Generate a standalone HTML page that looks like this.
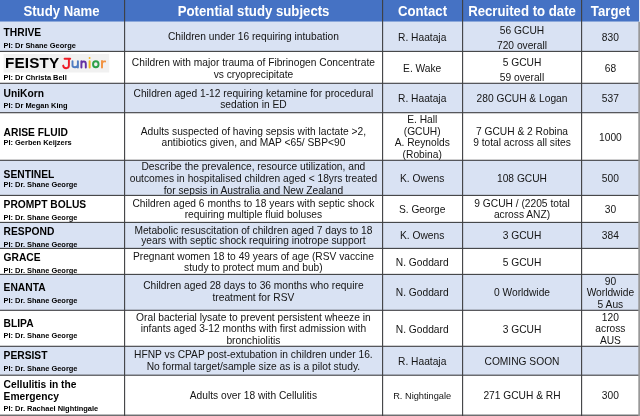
<!DOCTYPE html>
<html><head><meta charset="utf-8"><title>Studies</title>
<style>
html,body{margin:0;padding:0;background:#fff;}
body{width:640px;height:416px;overflow:hidden;}
svg{display:block;will-change:transform;opacity:0.999;font-family:"Liberation Sans",sans-serif;}
.b{font-size:10.23px;fill:#141414;text-anchor:middle;}
.t{font-size:10.25px;font-weight:bold;fill:#000;}
.p{font-size:7.45px;font-weight:bold;fill:#000;}
.h{font-size:13.2px;font-weight:bold;fill:#fff;text-anchor:middle;}
</style></head><body>
<svg width="640" height="416" viewBox="0 0 640 416">
<defs><filter id="soft" x="0" y="0" width="640" height="416" filterUnits="userSpaceOnUse"><feGaussianBlur stdDeviation="0.33" edgeMode="duplicate"/></filter></defs>
<g filter="url(#soft)">
<rect x="0" y="0" width="640" height="416" fill="#fff"/>
<rect x="0" y="0" width="640" height="21.75" fill="#4472C4"/>
<rect x="0" y="21.75" width="640" height="29.65" fill="#D9E2F3"/>
<rect x="0" y="83.3" width="640" height="29.4" fill="#D9E2F3"/>
<rect x="0" y="160.3" width="640" height="35.1" fill="#D9E2F3"/>
<rect x="0" y="222.4" width="640" height="26.0" fill="#D9E2F3"/>
<rect x="0" y="274.4" width="640" height="35.9" fill="#D9E2F3"/>
<rect x="0" y="346.3" width="640" height="28.9" fill="#D9E2F3"/>
<text class="h" transform="translate(61.5 16) scale(1 1.07)">Study Name</text>
<text class="h" transform="translate(253.6 16) scale(1 1.07)">Potential study subjects</text>
<text class="h" transform="translate(422.5 16) scale(1 1.07)">Contact</text>
<text class="h" transform="translate(522.0 16) scale(1 1.07)">Recruited to date</text>
<text class="h" transform="translate(610.5 16) scale(1 1.07)">Target</text>
<text class="b" x="253.4" y="40.3">Children under 16 requiring intubation</text>
<text class="b" x="253.4" y="66.2">Children with major trauma of Fibrinogen Concentrate</text>
<text class="b" x="253.4" y="77.8">vs cryoprecipitate</text>
<text class="b" x="253.4" y="96.8">Children aged 1-12 requiring ketamine for procedural</text>
<text class="b" x="253.4" y="107.5">sedation in ED</text>
<text class="b" x="253.4" y="134.8">Adults suspected of having sepsis with lactate &gt;2,</text>
<text class="b" x="253.4" y="146.4">antibiotics given, and MAP &lt;65/ SBP&lt;90</text>
<text class="b" x="253.4" y="170.3">Describe the prevalence, resource utilization, and</text>
<text class="b" x="253.4" y="181.9">outcomes in hospitalised children aged &lt; 18yrs treated</text>
<text class="b" x="253.4" y="193.5">for sepsis in Australia and New Zealand</text>
<text class="b" x="253.4" y="207.2">Children aged 6 months to 18 years with septic shock</text>
<text class="b" x="253.4" y="218.0">requiring multiple fluid boluses</text>
<text class="b" x="253.4" y="233.6">Metabolic resuscitation of children aged 7 days to 18</text>
<text class="b" x="253.4" y="244.4">years with septic shock requiring inotrope support</text>
<text class="b" x="253.4" y="260.0">Pregnant women 18 to 49 years of age (RSV vaccine</text>
<text class="b" x="253.4" y="270.8">study to protect mum and bub)</text>
<text class="b" x="253.4" y="289.2">Children aged 28 days to 36 months who require</text>
<text class="b" x="253.4" y="300.8">treatment for RSV</text>
<text class="b" x="253.4" y="320.8">Oral bacterial lysate to prevent persistent wheeze in</text>
<text class="b" x="253.4" y="332.4">infants aged 3-12 months with first admission with</text>
<text class="b" x="253.4" y="343.8">bronchiolitis</text>
<text class="b" x="253.4" y="358.3">HFNP vs CPAP post-extubation in children under 16.</text>
<text class="b" x="253.4" y="369.5">No formal target/sample size as is a pilot study.</text>
<text class="b" x="253.4" y="399.2">Adults over 18 with Cellulitis</text>
<text class="b" x="422.2" y="40.6">R. Haataja</text>
<text class="b" x="422.2" y="71.8">E. Wake</text>
<text class="b" x="422.2" y="102.0">R. Haataja</text>
<text class="b" x="422.2" y="123.2">E. Hall</text>
<text class="b" x="422.2" y="134.8">(GCUH)</text>
<text class="b" x="422.2" y="146.4">A. Reynolds</text>
<text class="b" x="422.2" y="157.8">(Robina)</text>
<text class="b" x="422.2" y="181.8">K. Owens</text>
<text class="b" x="422.2" y="212.5">S. George</text>
<text class="b" x="422.2" y="239.1">K. Owens</text>
<text class="b" x="422.2" y="266.0">N. Goddard</text>
<text class="b" x="422.2" y="296.3">N. Goddard</text>
<text class="b" x="422.2" y="333.0">N. Goddard</text>
<text class="b" x="422.2" y="365.0">R. Haataja</text>
<text class="b" x="422.2" y="398.6" style="font-size:9.6px" textLength="58" lengthAdjust="spacingAndGlyphs">R. Nightingale</text>
<text class="b" x="522.0" y="34.4">56 GCUH</text>
<text class="b" x="522.0" y="49.3">720 overall</text>
<text class="b" x="522.0" y="65.9">5 GCUH</text>
<text class="b" x="522.0" y="80.8">59 overall</text>
<text class="b" x="522.0" y="102.0">280 GCUH &amp; Logan</text>
<text class="b" x="522.0" y="134.8">7 GCUH &amp; 2 Robina</text>
<text class="b" x="522.0" y="146.4">9 total across all sites</text>
<text class="b" x="522.0" y="181.8">108 GCUH</text>
<text class="b" x="522.0" y="207.2">9 GCUH / (2205 total</text>
<text class="b" x="522.0" y="218.0">across ANZ)</text>
<text class="b" x="522.0" y="239.1">3 GCUH</text>
<text class="b" x="522.0" y="266.0">5 GCUH</text>
<text class="b" x="522.0" y="296.3">0 Worldwide</text>
<text class="b" x="522.0" y="333.0">3 GCUH</text>
<text class="b" x="522.0" y="365.0">COMING SOON</text>
<text class="b" x="522.0" y="398.9">271 GCUH &amp; RH</text>
<text class="b" x="610.4" y="40.6">830</text>
<text class="b" x="610.4" y="71.8">68</text>
<text class="b" x="610.4" y="102.0">537</text>
<text class="b" x="610.4" y="140.8">1000</text>
<text class="b" x="610.4" y="181.8">500</text>
<text class="b" x="610.4" y="212.5">30</text>
<text class="b" x="610.4" y="239.1">384</text>
<text class="b" x="610.4" y="284.8">90</text>
<text class="b" x="610.4" y="296.4">Worldwide</text>
<text class="b" x="610.4" y="308.0">5 Aus</text>
<text class="b" x="610.4" y="320.8">120</text>
<text class="b" x="610.4" y="332.4">across</text>
<text class="b" x="610.4" y="344.0">AUS</text>
<text class="b" x="610.4" y="398.9">300</text>
<text class="t" x="3.6" y="36.0">THRIVE</text>
<text class="p" x="3.5" y="47.6">PI: Dr Shane George</text>
<text class="p" x="3.5" y="80.4">PI: Dr Christa Bell</text>
<text class="t" x="3.6" y="96.6">UniKorn</text>
<text class="p" x="3.5" y="108.0">PI: Dr Megan King</text>
<text class="t" x="3.6" y="136.0">ARISE FLUID</text>
<text class="p" x="3.5" y="144.8">PI: Gerben Keijzers</text>
<text class="t" x="3.6" y="177.6">SENTINEL</text>
<text class="p" x="3.5" y="186.8">PI: Dr. Shane George</text>
<text class="t" x="3.6" y="208.4">PROMPT BOLUS</text>
<text class="p" x="3.5" y="220.0">PI: Dr. Shane George</text>
<text class="t" x="3.6" y="234.8">RESPOND</text>
<text class="p" x="3.5" y="247.0">PI: Dr. Shane George</text>
<text class="t" x="3.6" y="261.2">GRACE</text>
<text class="p" x="3.5" y="272.8">PI: Dr. Shane George</text>
<text class="t" x="3.6" y="291.0">ENANTA</text>
<text class="p" x="3.5" y="303.0">PI: Dr. Shane George</text>
<text class="t" x="3.6" y="326.8">BLIPA</text>
<text class="p" x="3.5" y="338.4">PI: Dr. Shane George</text>
<text class="t" x="3.6" y="358.5">PERSIST</text>
<text class="p" x="3.5" y="370.5">PI: Dr. Shane George</text>
<text class="t" x="3.6" y="387.8">Cellulitis in the</text>
<text class="t" x="3.6" y="400.0">Emergency</text>
<text class="p" x="3.5" y="411.0">PI: Dr. Rachael Nightingale</text>
<rect x="3.6" y="54" width="105.6" height="18.5" fill="#f1f1f1"/>
<text x="4.9" y="68" textLength="54.3" lengthAdjust="spacing" style="font-size:15.3px;font-weight:bold;fill:#000">FEISTY</text>
<g fill="none" stroke-width="1.95" stroke-linecap="round" stroke-linejoin="round">
<path stroke="#ee1c25" d="M64.6 58.7H70.2M68.9 58.7V65.6Q68.9 68.2 66.2 68.2Q63.5 68.2 63.2 65.6"/>
<path stroke="#4f7dc2" d="M72.5 61.3V65.4Q72.5 67.2 75 67.2Q77.9 67.2 77.9 64.4M77.9 61.3V67.4"/>
<path stroke="#6431a3" d="M81.4 61.2V67.4M81.4 63.6Q81.6 61.4 83.8 61.4Q85.8 61.4 85.8 63.8V67.4"/>
<path stroke="#f2b41f" d="M89.6 61.2V67.4M89.6 57.9V58.1"/>
<ellipse stroke="#2fa04a" cx="95.8" cy="64.3" rx="2.75" ry="3.0"/>
<path stroke="#f29443" d="M102 60.9V67.4M102 63.6Q102.5 61.1 105.1 61.4"/>
</g>
</g>
<rect x="0" y="50.85" width="640" height="1.1" fill="#3e3f42"/>
<rect x="0" y="82.75" width="640" height="1.1" fill="#3e3f42"/>
<rect x="0" y="112.15" width="640" height="1.1" fill="#3e3f42"/>
<rect x="0" y="159.75" width="640" height="1.1" fill="#3e3f42"/>
<rect x="0" y="194.85" width="640" height="1.1" fill="#3e3f42"/>
<rect x="0" y="221.85" width="640" height="1.1" fill="#3e3f42"/>
<rect x="0" y="247.85" width="640" height="1.1" fill="#3e3f42"/>
<rect x="0" y="273.85" width="640" height="1.1" fill="#3e3f42"/>
<rect x="0" y="309.75" width="640" height="1.1" fill="#3e3f42"/>
<rect x="0" y="345.75" width="640" height="1.1" fill="#3e3f42"/>
<rect x="0" y="374.65" width="640" height="1.1" fill="#3e3f42"/>
<rect x="0" y="414.65" width="640" height="1.1" fill="#3e3f42"/>
<rect x="124.05" y="0" width="1.1" height="416" fill="#3e3f42"/>
<rect x="382.05" y="0" width="1.1" height="416" fill="#3e3f42"/>
<rect x="462.05" y="0" width="1.1" height="416" fill="#3e3f42"/>
<rect x="581.05" y="0" width="1.1" height="416" fill="#3e3f42"/>
<rect x="638.3" y="21.75" width="1.7" height="394.25" fill="#999"/>
<rect x="639" y="0" width="1" height="21.75" fill="#dfe6f5"/>
</svg></body></html>
